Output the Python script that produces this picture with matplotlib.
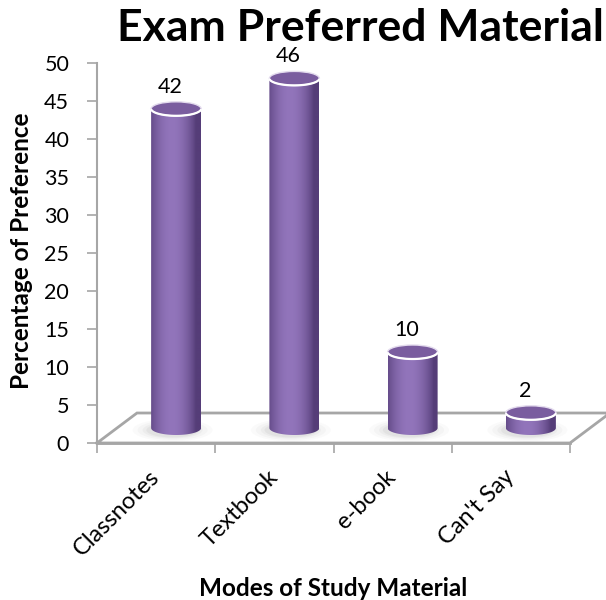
import numpy as np
import matplotlib
matplotlib.use("Agg")
import matplotlib.pyplot as plt
from matplotlib.patches import Polygon, Ellipse
from matplotlib.colors import to_rgb

plt.rcParams['font.family'] = ['Lato', 'DejaVu Sans']

categories = ["Classnotes", "Textbook", "e-book", "Can't Say"]
values = [42, 46, 10, 2]
yticks = [0, 5, 10, 15, 20, 25, 30, 35, 40, 45, 50]
title = "Exam Preferred Material"
xlabel = "Modes of Study Material"
ylabel = "Percentage of Preference"

W, H = 606, 600
fig = plt.figure(figsize=(W / 100, H / 100), dpi=100)
ax_l, ax_r, ax_b, ax_t = 97, 570, 443, 63
ax = fig.add_axes([ax_l / W, 1 - ax_b / H, (ax_r - ax_l) / W, (ax_b - ax_t) / H])
ax.set_xlim(0, len(categories))
ax.set_ylim(0, 50)

px_x = (ax_r - ax_l) / len(categories)   # pixels per x unit
px_y = (ax_b - ax_t) / 50.0              # pixels per y unit
ddx = 40 / px_x                           # depth offset
ddy = 30 / px_y

grey = '#a6a6a6'
# floor
fx = [0, len(categories), len(categories) + ddx, ddx, 0]
fy = [0, 0, ddy, ddy, 0]
ax.plot(fx, fy, color=grey, lw=2.0, clip_on=False, zorder=1, solid_joinstyle='miter')

# cylinders
w = 25 / px_x
eh = 7 / px_y
dark = np.array(to_rgb('#553d78'))
light = np.array(to_rgb('#9275bb'))
t = np.linspace(0, 1, 200)
prof = np.clip(np.cos((t - 0.42) * np.pi * 1.05), 0, 1) ** 0.8
grad = dark[None, :] + (light - dark)[None, :] * prof[:, None]
grad = grad[None, :, :]

for i, v in enumerate(values):
    cx = i + 0.5 + ddx / 2
    base = ddy / 2
    top = base + v
    # soft shadow
    for k, a in [(1.6, 0.025), (1.4, 0.035), (1.2, 0.045), (1.05, 0.06)]:
        ax.add_patch(Ellipse((cx - 0.03, base - eh * 0.3), 2 * w * k, 2 * eh * k,
                             facecolor='#505050', edgecolor='none', alpha=a, zorder=2))
    arc = np.linspace(0, np.pi, 60)
    verts = [(cx - w, top), (cx - w, base)]
    verts += [(cx - w * np.cos(a_), base - eh * np.sin(a_)) for a_ in arc]
    verts += [(cx + w, top)]
    body = Polygon(verts, closed=True, facecolor='none', edgecolor='none', zorder=3)
    ax.add_patch(body)
    im = ax.imshow(grad, extent=[cx - w, cx + w, base - eh, top], aspect='auto',
                   zorder=3, interpolation='bilinear')
    im.set_clip_path(body)
    ax.add_patch(Ellipse((cx, top), 2 * w, 2 * eh, facecolor='#7a5d9f',
                         edgecolor='#e4dcee', lw=1.0, zorder=4))
    arc2 = np.linspace(np.pi * 1.05, np.pi * 1.95, 40)
    ax.plot(cx + w * np.cos(arc2), top + eh * np.sin(arc2), color='white', lw=1.6,
            zorder=5, solid_capstyle='round')
    ax.annotate(str(v), (cx - 6 / px_x, top), xytext=(0, 22), textcoords='offset pixels',
                ha='center', va='center', fontsize=15.5, zorder=6)

ax.set_xlim(0, len(categories))
ax.set_ylim(0, 50)

for s in ['top', 'right']:
    ax.spines[s].set_visible(False)
ax.spines['left'].set_color(grey)
ax.spines['left'].set_linewidth(1.5)
ax.spines['bottom'].set_color(grey)
ax.spines['bottom'].set_linewidth(2.0)

ax.set_yticks(yticks)
ax.set_yticklabels([str(y) for y in yticks])
ax.tick_params(axis='y', length=7, width=1.2, color=grey, pad=13, labelsize=15.5)
ax.set_xticks(range(len(categories) + 1))
ax.set_xticklabels([])
ax.tick_params(axis='x', which='major', length=7, width=1.2, color=grey)
ax.set_xticks([i + 0.5 for i in range(len(categories))], minor=True)
ax.set_xticklabels(categories, minor=True, rotation=45, ha='right', va='center',
                   rotation_mode='anchor', fontsize=17)
ax.tick_params(axis='x', which='minor', length=0, pad=22)

fig.text(117 / W, 1 - 28 / H, title, fontsize=32, fontweight='bold', ha='left', va='center')
fig.text(333 / W, 1 - 589 / H, xlabel, fontsize=17.5, fontweight='bold', ha='center', va='center')
fig.text(22 / W, 1 - 251 / H, ylabel, fontsize=17.5, fontweight='bold', ha='center', va='center',
         rotation=90)

fig.savefig('out.png', dpi=100)
